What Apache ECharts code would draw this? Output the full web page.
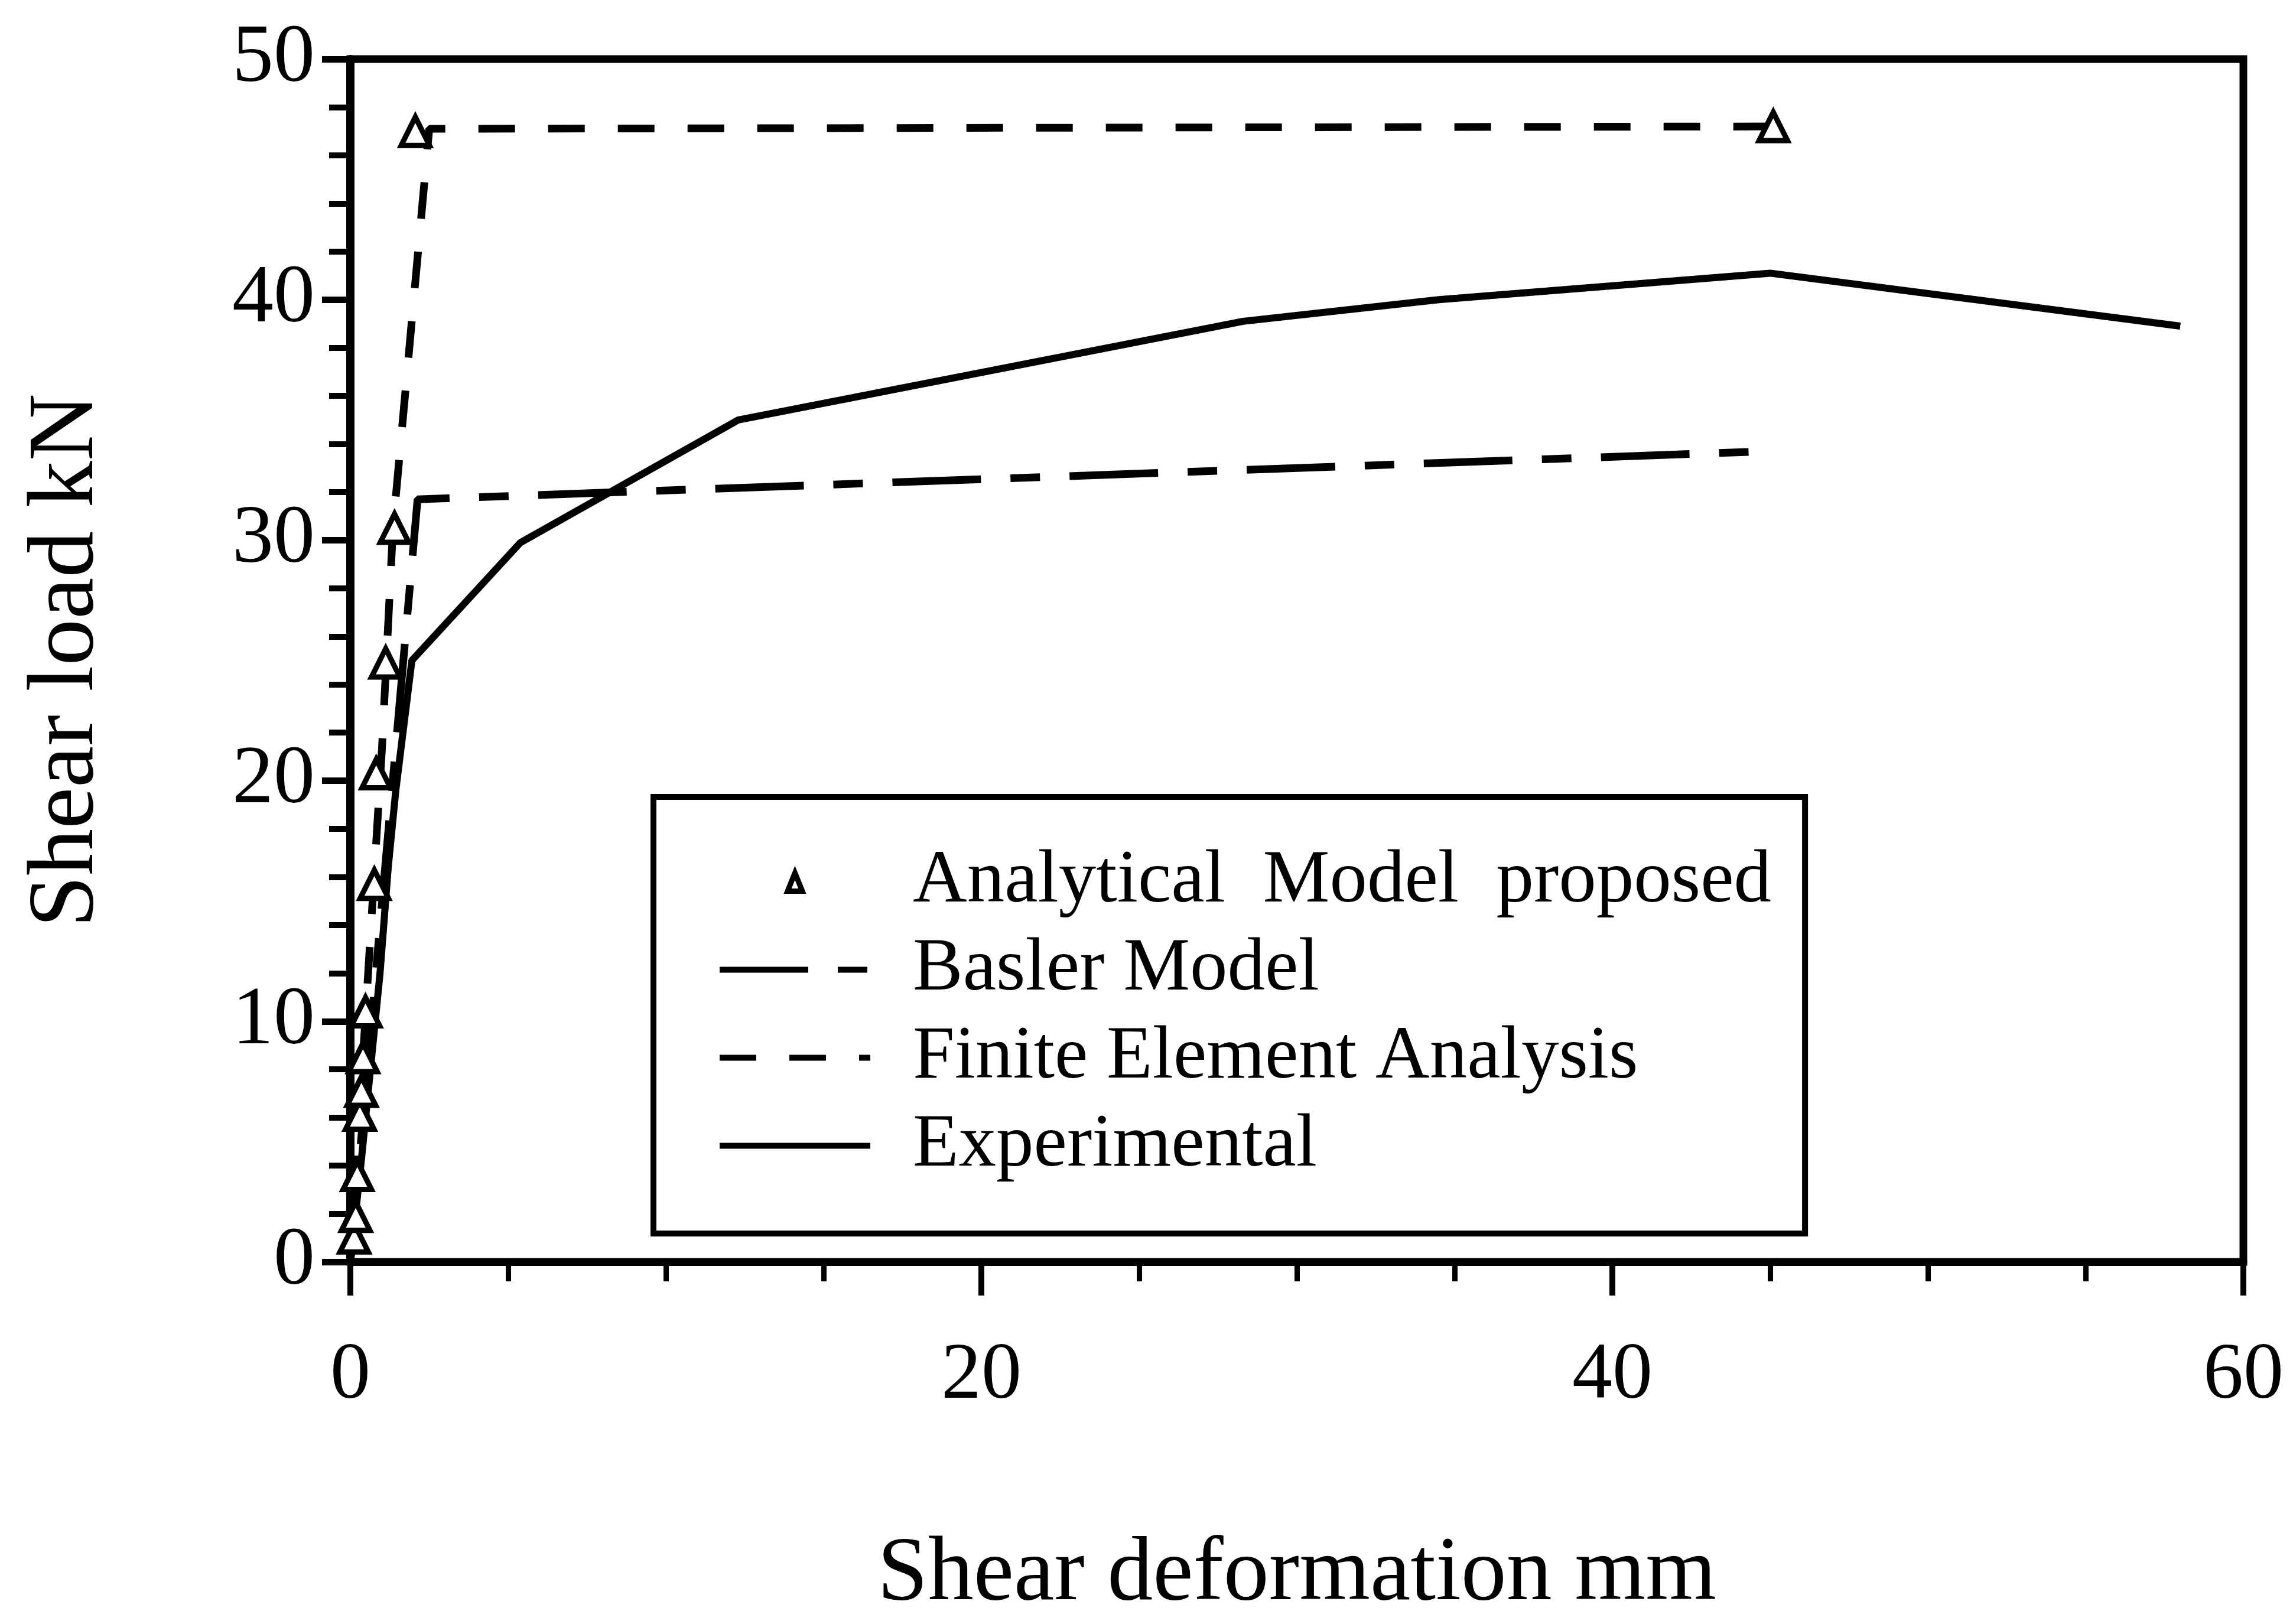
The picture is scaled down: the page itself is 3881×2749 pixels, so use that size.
<!DOCTYPE html>
<html><head><meta charset="utf-8">
<script src="https://cdn.jsdelivr.net/npm/echarts@6/dist/echarts.min.js"></script>
<style>html,body{margin:0;padding:0;background:#fff}#c{width:3881px;height:2749px}</style>
</head><body><div id="c"></div>
<script>
// ---- data ----
const xTickLabels = ['0', '20', '40', '60'];
const yTickLabels = ['0', '10', '20', '30', '40', '50'];

const seriesNames = ['Analytical  Model  proposed', 'Basler Model', 'Finite Element Analysis', 'Experimental'];

const analyticalX = [0.12, 0.17, 0.22, 0.30, 0.35, 0.40, 0.48, 0.76, 0.82, 1.12, 1.40, 2.06, 45.1];
const analyticalY = [1.0, 1.9, 3.6, 6.1, 7.1, 8.5, 10.4, 15.7, 20.3, 24.9, 30.5, 47.0, 47.2];

const baslerX = [0, 2.13, 45.0];
const baslerY = [0, 31.7, 33.7];

const feX = [0, 1.0, 1.35, 2.5, 45.1];
const feY = [0, 21.3, 30.5, 47.1, 47.2];

const expX = [0, 0.37, 0.94, 1.20, 1.44, 1.95, 5.39, 12.3, 28.3, 34.5, 45.0, 58.0];
const expY = [0, 4.5, 12.0, 16.4, 19.6, 25.0, 29.9, 35.0, 39.1, 40.0, 41.1, 38.9];

const zip = (xs, ys) => xs.map((x, i) => [x, ys[i]]);
const FONT = '"Liberation Serif","Times New Roman",serif';
const hideDot = {color: 'rgba(0,0,0,0)', borderColor: 'rgba(0,0,0,0)', borderWidth: 0};
// small triangle centred in a 255 x 36 legend icon box (degenerate corner points fix the bounds)
const legendTriangle = 'path://M0,0L0,0M255,36L255,36M115,34L127.5,3L140,34Z';

const chart = echarts.init(document.getElementById('c'), null, {renderer: 'canvas'});
chart.setOption({
  animation: false,
  backgroundColor: '#fff',
  textStyle: {fontFamily: FONT, color: '#000'},
  grid: {left: 593, right: 84, top: 100, bottom: 592, show: true,
         borderColor: '#000', borderWidth: 13, backgroundColor: 'transparent'},
  xAxis: {
    type: 'value', min: 0, max: 60, interval: 20,
    name: 'Shear deformation mm', nameLocation: 'middle', nameGap: 454,
    nameTextStyle: {fontFamily: FONT, fontSize: 154, color: '#000'},
    axisLine: {show: true, onZero: false, lineStyle: {color: '#000', width: 13}},
    axisTick: {show: true, length: 57, lineStyle: {color: '#000', width: 10}},
    minorTick: {show: true, splitNumber: 4, length: 33, lineStyle: {color: '#000', width: 9}},
    axisLabel: {margin: 126, fontFamily: FONT, fontSize: 136, color: '#000',
                formatter: v => xTickLabels[Math.round(v / 20)]},
    splitLine: {show: false}, minorSplitLine: {show: false}
  },
  yAxis: {
    type: 'value', min: 0, max: 50, interval: 10,
    name: 'Shear load kN', nameLocation: 'middle', nameGap: 400, nameRotate: 90,
    nameTextStyle: {fontFamily: FONT, fontSize: 158, color: '#000'},
    axisLine: {show: true, onZero: false, lineStyle: {color: '#000', width: 14}},
    axisTick: {show: true, length: 48, lineStyle: {color: '#000', width: 11}},
    minorTick: {show: true, splitNumber: 5, length: 36, lineStyle: {color: '#000', width: 10}},
    axisLabel: {margin: 60, fontFamily: FONT, fontSize: 140, color: '#000',
                padding: [36, 0, 0, 0],
                formatter: v => yTickLabels[Math.round(v / 10)]},
    splitLine: {show: false}, minorSplitLine: {show: false}
  },
  legend: {
    orient: 'vertical', left: 1106, top: 1349,
    padding: [80, 57, 85, 107], itemGap: 22, itemWidth: 255, itemHeight: 36,
    borderColor: '#000', borderWidth: 10, backgroundColor: '#fff',
    symbolKeepAspect: true,
    lineStyle: {width: 10},
    textStyle: {fontFamily: FONT, fontSize: 127, color: '#000', padding: [0, 0, 0, 67]},
    data: [
      {name: seriesNames[0], icon: legendTriangle,
       itemStyle: {color: '#fff', borderColor: '#000', borderWidth: 9}},
      {name: seriesNames[1], itemStyle: hideDot},
      {name: seriesNames[2], itemStyle: hideDot},
      {name: seriesNames[3], itemStyle: hideDot}
    ]
  },
  series: [
    {name: seriesNames[1], type: 'line', data: zip(baslerX, baslerY), symbol: 'none',
     lineStyle: {color: '#000', width: 13, type: [150, 50, 50, 50]}, itemStyle: {color: '#000'}, z: 2},
    {name: seriesNames[2], type: 'line', data: zip(feX, feY), symbol: 'none',
     lineStyle: {color: '#000', width: 13, type: [62, 56]}, itemStyle: {color: '#000'}, z: 2},
    {name: seriesNames[3], type: 'line', data: zip(expX, expY), symbol: 'none',
     lineStyle: {color: '#000', width: 12, type: 'solid'}, itemStyle: {color: '#000'}, z: 2},
    {name: seriesNames[0], type: 'scatter', data: zip(analyticalX, analyticalY),
     symbol: 'triangle', symbolSize: 48, symbolKeepAspect: true,
     itemStyle: {color: '#fff', borderColor: '#000', borderWidth: 9, opacity: 1}, z: 3}
  ]
});
</script></body></html>
